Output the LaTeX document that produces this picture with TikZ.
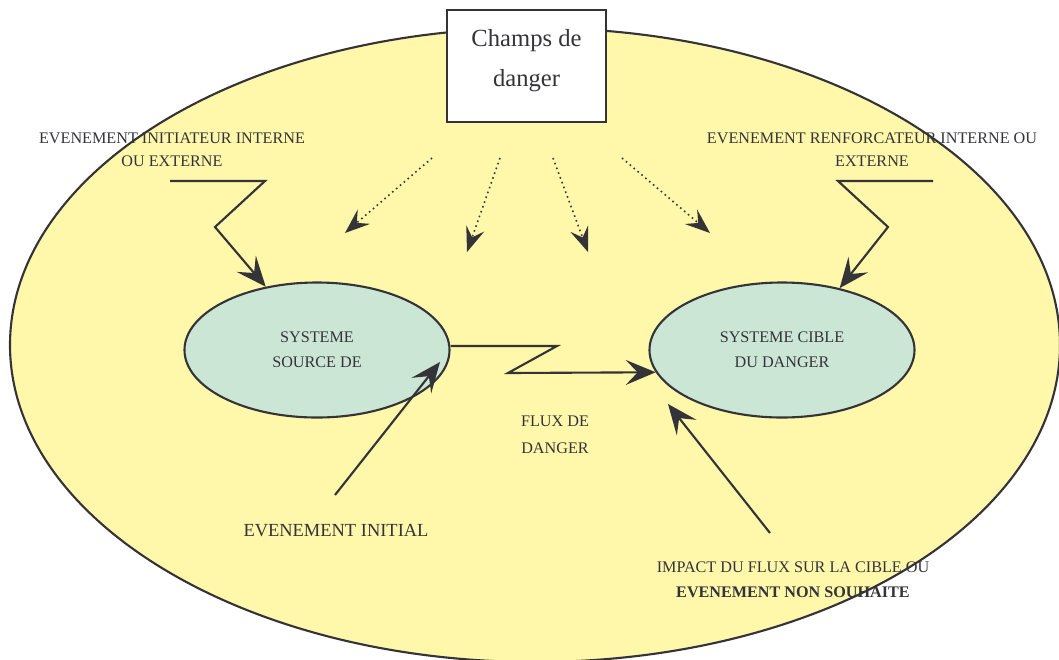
\documentclass[tikz,border=0pt]{standalone}
\usepackage{fontspec}
\setmainfont{Liberation Serif}
\usetikzlibrary{shapes.geometric,arrows.meta}
\definecolor{ink}{HTML}{333338}
\definecolor{fieldyellow}{HTML}{FFF7AA}
\definecolor{sysgreen}{HTML}{CCE6D6}
\tikzset{
  sysnode/.style={ellipse, draw=ink, line width=1.2pt, fill=sysgreen, minimum width=5.3cm, minimum height=2.7cm, align=center, font=\fontsize{9.2}{14}\selectfont, text=ink},
  lbl/.style={align=center, text=ink, font=\fontsize{9.2}{14.5}\selectfont},
  bolt/.style={draw=ink, line width=1.2pt, line join=miter, -{Stealth[length=6mm, width=5mm, inset=2.4mm]}},
  ray/.style={draw=ink, line width=0.9pt, dotted, -{Stealth[length=5mm, width=3.8mm, inset=1.9mm]}}
}
\begin{document}
\begin{tikzpicture}
  \clip (0,0) rectangle (21.18,-13.18);
  % Nodes
  \node (field) [ellipse, draw=ink, line width=1.2pt, fill=fieldyellow, minimum width=21cm, minimum height=12.68cm] at (10.7, -6.9) {};
  \node (champ) [rectangle, draw=ink, line width=1pt, fill=white, minimum height=2.24cm, minimum width=3.18cm, text depth=0.32cm, align=center, text=ink, font=\fontsize{14}{23}\selectfont] at (10.53, -1.32) {Champs de\\danger};
  \node (src) [sysnode] at (6.34, -7.0) {SYSTEME\\SOURCE DE};
  \node (tgt) [sysnode] at (15.64, -7.0) {SYSTEME CIBLE\\DU DANGER};
  \node (initiateur) [lbl, font=\fontsize{9.2}{13}\selectfont] at (3.44, -3.0) {EVENEMENT INITIATEUR INTERNE\\OU EXTERNE};
  \node (renforcateur) [lbl, font=\fontsize{9.2}{13}\selectfont] at (17.44, -3.0) {EVENEMENT RENFORCATEUR INTERNE OU\\EXTERNE};
  \node (flux) [lbl, font=\fontsize{9.2}{15.3}\selectfont] at (11.1, -8.7) {FLUX DE\\DANGER};
  \node (initial) [lbl, font=\fontsize{10.5}{13}\selectfont] at (6.72, -10.62) {EVENEMENT INITIAL};
  \node (impact) [lbl] at (15.86, -11.6) {IMPACT DU FLUX SUR LA CIBLE OU\\\textbf{EVENEMENT NON SOUHAITE}};
  \coordinate (init-in) at (3.4, -3.62);
  \coordinate (renf-in) at (18.66, -3.62);
  \coordinate (initial-in) at (6.7, -9.9);
  \coordinate (impact-in) at (15.4, -10.66);
  % Arrow
  \draw[bolt] (init-in) -- (5.3, -3.62) -- (4.3, -4.54) -- (src.129);
  \draw[bolt] (renf-in) -- (16.76, -3.62) -- (17.76, -4.54) -- (tgt.47);
  \draw[bolt] (src.east) ++(0,0.08) -- (11.14, -6.92) -- (10.16, -7.46) -- (tgt.190);
  \draw[bolt] (initial-in) -- (8.8, -7.24);
  \draw[bolt] (impact-in) -- (13.36, -8.08);
  % Rays
  \draw[ray] (8.64, -3.16) -- (6.9, -4.66);
  \draw[ray] (10.0, -3.16) -- (9.34, -5.04);
  \draw[ray] (11.06, -3.16) -- (11.76, -5.04);
  \draw[ray] (12.44, -3.16) -- (14.2, -4.66);
\end{tikzpicture}
\end{document}
